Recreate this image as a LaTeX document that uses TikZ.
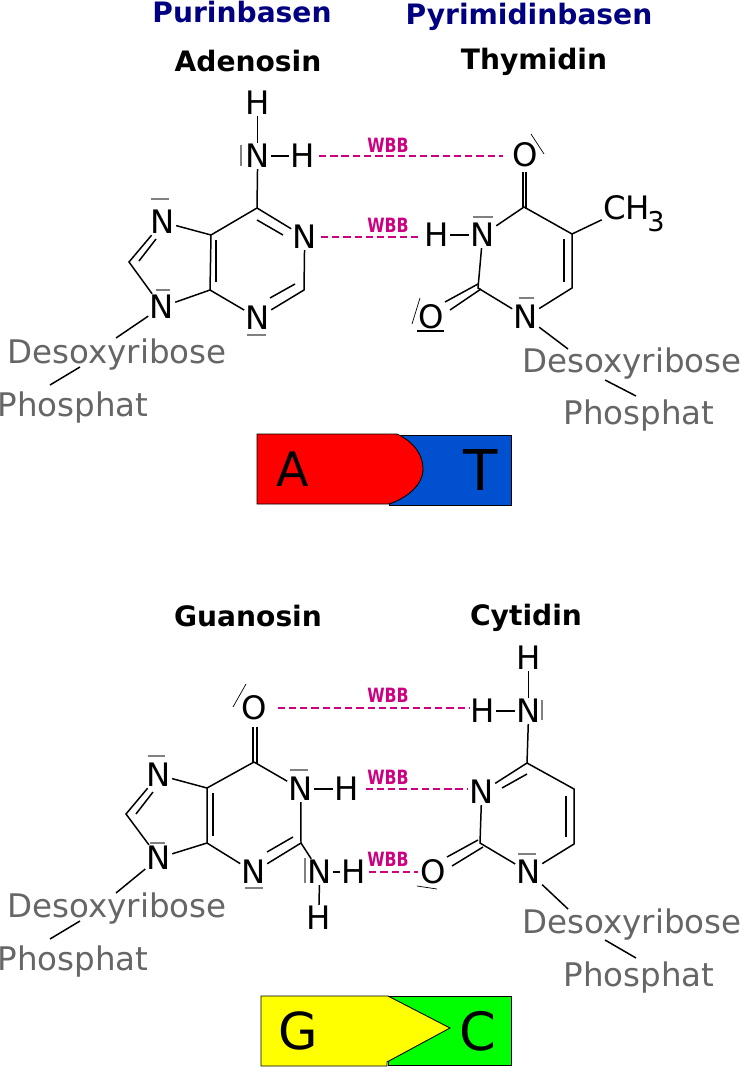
\documentclass[tikz,border=0pt]{standalone}
\usepackage{fontspec}
\setmainfont{DejaVu Sans}
\usetikzlibrary {positioning}
\definecolor{wbbcol}{HTML}{CC0080}
\definecolor{sugarcol}{HTML}{666666}
\definecolor{titlecol}{HTML}{000080}
\definecolor{tblue}{HTML}{0050D0}
\definecolor{gyellow}{HTML}{FFFF00}
\definecolor{cgreen}{HTML}{00FF00}
\definecolor{ared}{HTML}{FF0000}
\begin{document}
\begin{tikzpicture}[x=0.02cm,y=-0.02cm,
    atom/.style={inner sep=0.6pt,xshift=0.4pt,font=\fontsize{18.4}{20}\selectfont},
    sugar/.style={inner sep=1pt,text=sugarcol,font=\fontsize{18.5}{20}\selectfont},
    basename/.style={inner sep=0pt,font=\fontsize{16}{18}\selectfont\bfseries},
    classname/.style={basename,text=titlecol},
    wbb/.style={inner sep=0pt,text=wbbcol,font=\fontsize{11.2}{12}\selectfont\bfseries},
    bond/.style={line width=0.85pt},
    pair/.style={draw=gray,line width=0.7pt},
    hbond/.style={draw=wbbcol,line width=0.8pt,dash pattern=on 4.2pt off 2.2pt},
    block/.style={draw=black,line width=0.5pt},
    blockname/.style={inner sep=0pt}
    ]
\useasboundingbox (0,0) rectangle (741,1067);

% titles
\node[classname] (purin) at (242,12) {Purinbasen};
\node[classname] (pyrimidin) at (529,17) {Pyrimidinbasen};
\node[basename] (adenosin) at (248,61) {Adenosin};
\node[basename] (thymidin) at (534,62) {Thymidin};
\node[basename] (guanosin) at (248,616) {Guanosin};
\node[basename] (cytidin) at (526,618) {Cytidin};

% adenine
\node[atom] (AH1) at (257,103) {H};
\node[atom] (AN6) at (257,156) {N};
\node[atom] (AH2) at (302,156) {H};
\node[atom] (AN1) at (304,237) {N};
\node[atom] (AN3) at (257,318) {N};
\node[atom] (AN7) at (162,222) {N};
\node[atom] (AN9) at (161,307) {N};
\coordinate (AC6) at (257,208);
\coordinate (AC5) at (211,235);
\coordinate (AC4) at (210,290);
\coordinate (AC2) at (304,290);
\coordinate (AC8) at (129,262);
\draw[bond] (AH1) -- (AN6);
\draw[bond] (AN6) -- (AH2);
\draw[bond] (AN6) -- (AC6) -- (AN1) -- (AC2) -- (AN3) -- (AC4) -- (AC5) -- (AC6);
\draw[bond] (AC5) -- (AN7) -- (AC8) -- (AN9) -- (AC4);
\draw[bond] (216,240) -- (216,282);
\draw[bond] (257,220) -- (283,235);
\draw[bond] (295,284) -- (270,298);
\draw[bond] (156,239) -- (139,261);
\draw[pair] (241,145) -- (241,166);
\draw[pair] (151,199) -- (169,199);
\draw[pair] (156,290) -- (170,290);
\draw[pair] (247,335) -- (266,335);

% thymine
\node[atom] (TO4) at (525,155) {O};
\node[atom] (TH3) at (436,235) {H};
\node[atom] (TN3) at (482,235) {N};
\node[atom] (TN1) at (525,317) {N};
\node[atom] (TO2) at (431,317) {O};
\node[atom,anchor=west] (TMe) at (601,208) {CH};
\node[inner sep=0pt,font=\fontsize{15.5}{16}\selectfont] (TMe3) at (656,222) {3};
\coordinate (TC4) at (524,207);
\coordinate (TC5) at (572,234);
\coordinate (TC6) at (572,288);
\coordinate (TC2) at (478,288);
\draw[bond] (TH3) -- (TN3);
\draw[bond] (TN3) -- (TC4) -- (TC5) -- (TC6) -- (TN1) -- (TC2) -- (TN3);
\draw[bond] (TC5) -- (TMe);
\draw[bond] (523,172) -- (523,207);
\draw[bond] (526,172) -- (526,209);
\draw[bond] (564,239) -- (564,282);
\draw[bond] (478,284) -- (445,302);
\draw[bond] (481,289) -- (450,310);
\draw[pair] (473,217) -- (493,217);
\draw[pair] (519,298) -- (534,298);
\draw[pair,black] (417,331) -- (444,331);
\draw[draw=black,line width=0.4pt] (420,298) -- (412,324);
\draw[draw=black,line width=0.4pt] (531,134) -- (544,154);

% guanine
\node[atom] (GO6) at (254,708) {O};
\node[atom] (GN1) at (300,789) {N};
\node[atom] (GH1) at (346,789) {H};
\node[atom] (GN3) at (253,872) {N};
\node[atom] (GN2) at (319,872) {N};
\node[atom] (GH2) at (353,872) {H};
\node[atom] (GH3) at (318,918) {H};
\node[atom] (GN7) at (158,775) {N};
\node[atom] (GN9) at (158,858) {N};
\coordinate (GC6) at (254,762);
\coordinate (GC5) at (207,788);
\coordinate (GC4) at (207,843);
\coordinate (GC2) at (301,843);
\coordinate (GC8) at (126,814);
\draw[bond] (GC6) -- (GC5) -- (GC4) -- (GN3) -- (GC2) -- (GN1) -- (GC6);
\draw[bond] (GC5) -- (GN7) -- (GC8) -- (GN9) -- (GC4);
\draw[bond] (GN1) -- (GH1);
\draw[bond] (GC2) -- (GN2);
\draw[bond] (GN2) -- (GH2);
\draw[bond] (GN2) -- (GH3);
\draw[bond] (253,727) -- (253,762);
\draw[bond] (257,727) -- (257,764);
\draw[bond] (213,793) -- (213,836);
\draw[bond] (293,837) -- (267,852);
\draw[bond] (153,792) -- (136,814);
\draw[pair] (148,756) -- (165,756);
\draw[pair] (150,843) -- (165,843);
\draw[pair] (245,888) -- (263,888);
\draw[pair] (290,770) -- (308,770);
\draw[pair] (305,858) -- (305,883);
\draw[draw=black,line width=0.4pt] (246,684) -- (233,707);

% cytosine
\node[atom] (CH1) at (528,658) {H};
\node[atom] (CN4) at (528,711) {N};
\node[atom] (CH2) at (482,711) {H};
\node[atom] (CN3) at (481,792) {N};
\node[atom] (CN1) at (528,872) {N};
\node[atom] (CO2) at (433,872) {O};
\coordinate (CC4) at (527,763);
\coordinate (CC5) at (574,789);
\coordinate (CC6) at (574,844);
\coordinate (CC2) at (480,843);
\draw[bond] (CH1) -- (CN4);
\draw[bond] (CH2) -- (CN4);
\draw[bond] (CN4) -- (CC4) -- (CC5) -- (CC6) -- (CN1) -- (CC2) -- (CN3) -- (CC4);
\draw[bond] (527,774) -- (502,788);
\draw[bond] (566,796) -- (566,837);
\draw[bond] (478,840) -- (447,857);
\draw[bond] (483,847) -- (452,866);
\draw[pair] (542,700) -- (542,720);
\draw[pair] (518,854) -- (536,854);
\draw[draw=black,line width=0.4pt] (417,886) -- (437,889);

% hydrogen bonds
\draw[hbond,shorten >=13pt,shorten <=1.5pt] (AH2) -- (AH2 -| TO4);
\draw[hbond,shorten >=10pt,shorten <=1.5pt] (AN1) -- (AN1 -| TH3);
\draw[hbond,shorten >=7pt,shorten <=5pt] (GO6) -- (GO6 -| CH2);
\draw[hbond,shorten >=8pt,shorten <=3pt] (GH1) -- (GH1 -| CN3);
\draw[hbond,shorten >=1pt,shorten <=1pt] (GH2) -- (CO2);
\node[wbb] (wbb1) at (388,145) {\scalebox{0.8}[1]{WBB}};
\node[wbb] (wbb2) at (388,225) {\scalebox{0.8}[1]{WBB}};
\node[wbb] (wbb3) at (388,695) {\scalebox{0.8}[1]{WBB}};
\node[wbb] (wbb4) at (388,777) {\scalebox{0.8}[1]{WBB}};
\node[wbb] (wbb5) at (388,859) {\scalebox{0.8}[1]{WBB}};

% sugar and phosphate
\node[sugar] (sugarA) at (117,355) {Desoxyribose};
\node[sugar] (phosA) at (73,408) {Phosphat};
\node[sugar] (sugarT) at (632,364) {Desoxyribose};
\node[sugar] (phosT) at (639,416) {Phosphat};
\node[sugar] (sugarG) at (117,909) {Desoxyribose};
\node[sugar] (phosG) at (73,962) {Phosphat};
\node[sugar] (sugarC) at (632,925) {Desoxyribose};
\node[sugar] (phosC) at (639,978) {Phosphat};
\coordinate (linkA) at (116,338);
\coordinate (linkT) at (568,349);
\coordinate (linkG) at (116,893);
\coordinate (linkC) at (568,909);
\coordinate (upA) at (80,367);
\coordinate (downA) at (50,385);
\coordinate (upT) at (605,380);
\coordinate (downT) at (636,396);
\coordinate (upG) at (80,921);
\coordinate (downG) at (50,939);
\coordinate (upC) at (605,940);
\coordinate (downC) at (636,958);
\draw[bond] (AN9) -- (linkA);
\draw[bond] (upA) -- (downA);
\draw[bond] (TN1) -- (linkT);
\draw[bond] (upT) -- (downT);
\draw[bond] (GN9) -- (linkG);
\draw[bond] (upG) -- (downG);
\draw[bond] (CN1) -- (linkC);
\draw[bond] (upC) -- (downC);

% blocks
\draw[block,fill=tblue] (389,435) rectangle (511,505);
\draw[block,fill=ared] (257,434) -- (397,434) .. controls (414,442) and (423,455) .. (423,469) .. controls (423,485) and (407,498) .. (389,504) -- (257,504) -- cycle;
\node[blockname,font=\fontsize{27}{28}\selectfont] (blockA) at (293,469) {A};
\node[blockname,font=\fontsize{32}{34}\selectfont] (blockT) at (481,470) {T};
\draw[block,fill=cgreen] (388,996) rectangle (511,1065);
\draw[block,fill=gyellow] (261,996) -- (388,996) -- (450,1028) -- (387,1062) -- (387,1066) -- (261,1066) -- cycle;
\node[blockname,font=\fontsize{29}{30}\selectfont] (blockG) at (298,1031) {G};
\node[blockname,font=\fontsize{30}{32}\selectfont] (blockC) at (478,1031) {C};
\end{tikzpicture}
\end{document}
